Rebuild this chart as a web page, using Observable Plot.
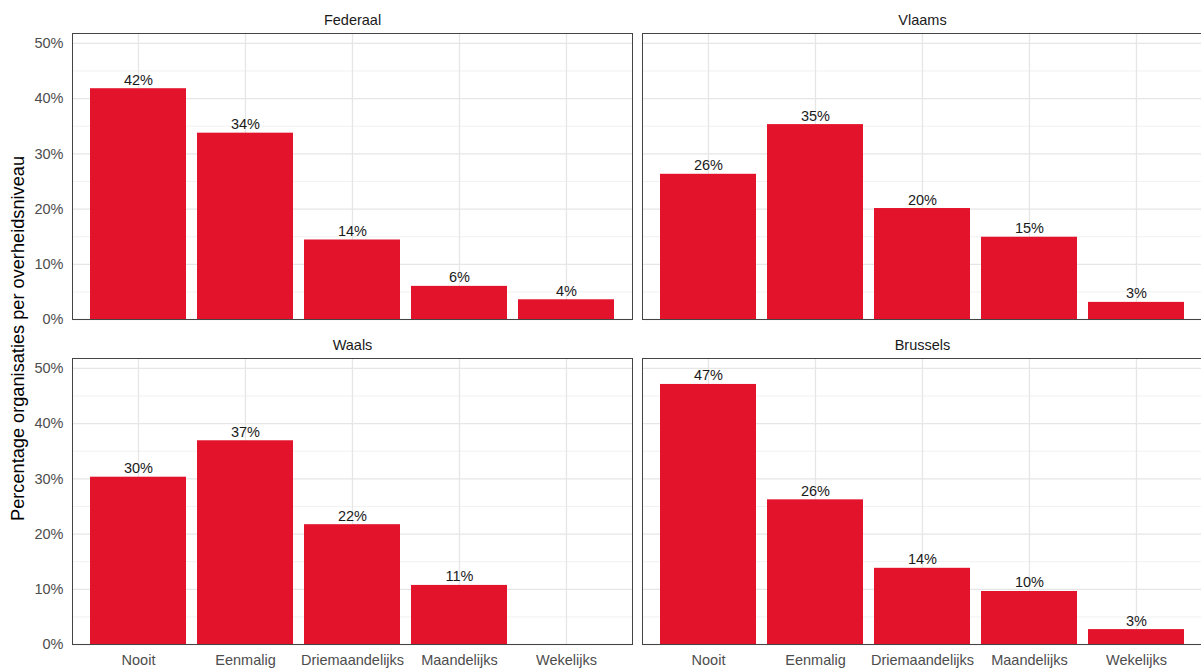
<!DOCTYPE html>
<html>
<head>
<meta charset="utf-8">
<script src="https://cdn.jsdelivr.net/npm/d3@7"></script>
<script src="https://cdn.jsdelivr.net/npm/@observablehq/plot@0.6"></script>
<style>
  html, body { margin: 0; padding: 0; background: #fff; overflow: hidden; }
  #chart svg { display: block; }
</style>
</head>
<body>
<div id="chart"></div>
<script>
const categories = ["Nooit", "Eenmalig", "Driemaandelijks", "Maandelijks", "Wekelijks"];
const panelNames = ["Federaal", "Vlaams", "Waals", "Brussels"];
const panelCols = ["left", "right", "left", "right"];
const panelRows = ["top", "top", "bottom", "bottom"];
const federaal = [0.418, 0.3375, 0.144, 0.060, 0.0357];
const vlaams   = [0.263, 0.353, 0.201, 0.149, 0.031];
const waals    = [0.303, 0.369, 0.217, 0.107, 0];
const brussels = [0.471, 0.262, 0.138, 0.096, 0.027];
const seriesValues = [federaal, vlaams, waals, brussels];
const majorTicks = [0, 0.1, 0.2, 0.3, 0.4, 0.5];
const minorTicks = [0.05, 0.15, 0.25, 0.35, 0.45];
const yTitle = "Percentage organisaties per overheidsniveau";

const data = [];
panelNames.forEach((p, i) => {
  categories.forEach((c, j) => {
    data.push({panel: p, col: panelCols[i], row: panelRows[i], cat: c, value: seriesValues[i][j]});
  });
});
const panels = panelNames.map((p, i) => ({name: p, col: panelCols[i], row: panelRows[i]}));

const red = "#e3132c";
const chart = Plot.plot({
  width: 1201,
  height: 668,
  marginLeft: 71,
  marginRight: -2,
  marginTop: 33,
  marginBottom: 24,
  style: {fontFamily: "'Liberation Sans', Arial, Helvetica, sans-serif", fontSize: "14.5px", background: "#fff"},
  fx: {domain: ["left", "right"], paddingInner: 0.0175, paddingOuter: 0, axis: null},
  fy: {domain: ["top", "bottom"], paddingInner: 0.12, paddingOuter: 0, axis: null},
  x: {domain: categories, paddingInner: 0.1, paddingOuter: 0.15},
  y: {domain: [0, 0.518]},
  marks: [
    Plot.ruleY(minorTicks, {y: d => d, stroke: "#efefef", strokeWidth: 0.9}),
    Plot.ruleY(majorTicks, {y: d => d, stroke: "#e6e6e6", strokeWidth: 1.3}),
    Plot.ruleX(categories, {x: d => d, stroke: "#e6e6e6", strokeWidth: 1.3}),
    Plot.barY(data, {x: "cat", y: "value", fx: "col", fy: "row", fill: red}),
    Plot.text(data.filter(d => d.value > 0), {
      x: "cat", y: "value", fx: "col", fy: "row",
      text: d => Math.round(d.value * 100) + "%",
      lineAnchor: "bottom", dy: -4, fill: "#1a1a1a"
    }),
    Plot.text(panels, {
      fx: "col", fy: "row", text: "name", frameAnchor: "top",
      lineAnchor: "bottom", dy: -9, fill: "#1a1a1a"
    }),
    Plot.axisY({ticks: majorTicks, tickFormat: d => Math.round(d * 100) + "%", tickSize: 0, tickPadding: 9, fill: "#4d4d4d", label: null, facetAnchor: "left"}),
    Plot.axisX({tickSize: 0, tickPadding: 10, fill: "#4d4d4d", label: null, facetAnchor: "bottom"}),
    Plot.frame({stroke: "#444", strokeWidth: 1})
  ]
});

document.getElementById("chart").appendChild(chart);

d3.select(chart).append("text")
  .attr("transform", "translate(23.5,338.5) rotate(-90)")
  .attr("text-anchor", "middle")
  .attr("fill", "#000")
  .style("font-size", "18.2px")
  .text(yTitle);
</script>
</body>
</html>
